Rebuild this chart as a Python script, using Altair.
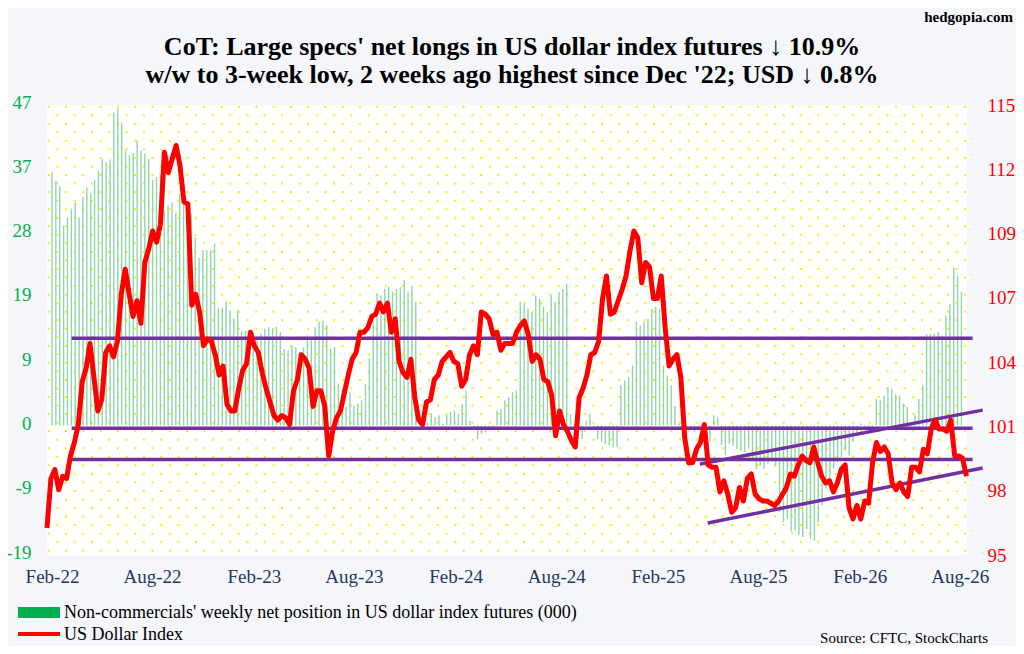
import json

import altair as alt
import pandas as pd

FONT = "Liberation Serif"

# weekly US dollar index (right axis)
usd_index = [
    96.2, 98.4, 98.8, 97.9, 98.5, 98.4, 99.4, 100.0, 100.8, 102.7,
    103.3, 104.4, 102.9, 101.4, 101.9, 104.0, 104.3, 103.8, 104.5, 106.6,
    107.7, 106.6, 105.6, 106.3, 105.3, 108.0, 108.6, 109.4, 108.9, 109.7,
    112.9, 112.0, 112.6, 113.2, 112.3, 110.7, 110.6, 106.1, 106.6, 105.8,
    104.3, 104.6, 104.5, 103.9, 103.0, 103.4, 101.7, 101.4, 101.4, 102.4,
    103.2, 103.5, 104.9, 104.3, 104.0, 103.1, 102.4, 101.8, 101.2, 101.0,
    101.2, 101.1, 100.8, 102.3, 102.8, 103.9, 103.7, 103.3, 101.6, 102.3,
    102.3, 101.6, 99.4, 100.5, 101.1, 101.4, 102.2, 103.0, 103.7, 104.0,
    104.9, 104.9, 105.1, 105.6, 105.7, 106.2, 105.8, 106.2, 104.9, 105.5,
    103.6, 103.1, 102.9, 103.7, 102.0, 101.0, 100.8, 101.8, 101.9, 102.8,
    103.0, 103.6, 103.8, 104.0, 103.6, 103.5, 102.5, 102.8, 103.9, 104.3,
    103.9, 105.8, 105.7, 105.5, 104.8, 104.9, 104.1, 104.4, 104.4, 104.4,
    104.9, 105.2, 105.4, 104.8, 103.6, 103.9, 103.7, 102.8, 102.7, 102.1,
    100.3, 101.4, 100.8, 100.5, 100.1, 99.8, 102.0, 102.4, 103.0, 103.9,
    104.0, 104.5, 106.4, 107.4, 105.7, 105.8, 106.3, 106.8, 107.4, 108.5,
    109.4, 109.1, 107.1, 108.0, 107.8, 106.4, 106.4, 107.4, 105.1, 103.4,
    103.7, 103.9, 102.9, 100.2, 99.1, 99.1, 99.7, 100.0, 100.8, 99.0,
    98.9, 98.9, 97.8, 98.3, 97.7, 96.9, 97.1, 98.0, 97.4, 98.4,
    98.6, 97.7, 97.5, 97.4, 97.4, 97.3, 97.2, 97.4, 97.7, 98.0,
    98.6, 98.5, 99.0, 99.4, 99.2, 99.1, 99.8, 99.1, 98.5, 98.2,
    98.3, 97.8, 98.2, 98.8, 99.0, 97.1, 96.6, 97.2, 96.6, 97.4,
    97.3, 99.1, 100.0, 99.6, 99.8, 99.5, 98.2, 97.9, 98.2, 97.8,
    97.6, 98.9, 98.9, 98.7, 99.7, 99.5, 100.6, 101.0, 100.6, 100.6,
    100.5, 101.0, 99.4, 99.4, 99.3, 98.5,
]

# non-commercials' net position, thousands of contracts (left axis)
net_position = [
    37.1, 35.9, 35.1, 29.3, 30.5, 31.8, 32.7, 30.5, 33.5, 34.9,
    34.0, 36.0, 37.4, 39.1, 38.6, 39.0, 45.9, 46.5, 44.4, 40.3,
    39.6, 40.0, 41.8, 40.3, 39.9, 39.1, 36.0, 36.4, 36.7, 31.5,
    32.3, 32.7, 31.2, 34.0, 33.0, 32.3, 31.1, 27.6, 24.6, 25.7,
    25.7, 25.7, 26.7, 17.2, 17.3, 18.2, 16.9, 15.7, 16.9, 13.8,
    13.9, 13.7, 13.7, 13.0, 13.5, 14.2, 14.4, 14.2, 14.5, 13.7,
    11.2, 11.0, 11.7, 11.5, 10.8, 11.5, 13.2, 12.5, 14.4, 15.2,
    15.4, 14.7, 11.2, 11.5, 6.1, 5.4, 2.7, 4.9, 2.9, 3.2,
    3.7, 6.1, 9.8, 16.1, 19.3, 19.1, 20.0, 20.3, 19.6, 20.0,
    20.3, 21.3, 19.6, 20.5, 18.1, 0.6, -0.4, 0.4, 1.8, 1.2,
    1.5, 0.2, 1.5, 2.0, 2.2, 1.7, 3.2, 5.1, 0.7, -0.3,
    -2.0, -1.2, -1.0, -0.4, -0.2, 2.2, 2.4, 3.7, 4.2, 4.9,
    5.1, 18.1, 17.8, 17.1, 16.6, 19.1, 18.6, 17.4, 16.6, 19.1,
    18.1, 19.6, 20.0, 20.8, 1.7, 0.2, -2.0, -2.0, 0.7, 1.7,
    -0.2, -2.0, -2.4, -2.7, -2.9, -3.2, -3.2, 5.9, 6.6, 7.1,
    8.8, 15.2, 14.7, 15.2, 15.6, 17.1, 17.4, 17.1, 8.8, 7.3,
    5.9, 2.9, 0.3, -0.5, -0.5, -0.7, -1.0, -0.5, -1.0, -4.4,
    -2.4, 1.5, 1.2, -2.9, -4.4, -2.7, -2.9, -3.4, -3.7, -3.9,
    -3.4, -4.9, -6.4, -5.9, -6.4, -5.6, -4.9, -5.9, -12.7, -14.2,
    -13.7, -15.6, -15.4, -16.1, -16.4, -15.2, -16.6, -16.9, -14.2, -11.7,
    -9.3, -7.8, -6.4, -5.4, -4.6, -3.7, -4.4, -2.4, -1.2, 0.3,
    -0.5, -0.7, -0.5, 3.9, 3.7, 4.4, 5.6, 5.4, 4.6, 4.4,
    3.2, 2.7, 0.2, 1.5, 3.9, 5.9, 13.4, 13.4, 13.4, 13.7,
    13.2, 16.1, 17.8, 23.2, 22.0, 19.6,
]

first_week = "2022-02-01"
left_tick_labels = ["-19", "-9", "0", "9", "19", "28", "37", "47"]
right_tick_labels = ["95", "98", "101", "104", "107", "109", "112", "115"]
x_tick_dates = [(2022, 2), (2022, 8), (2023, 2), (2023, 8), (2024, 2),
                (2024, 8), (2025, 2), (2025, 8), (2026, 2), (2026, 8)]

# purple support / resistance levels and the rising channel
level_values = [104.63, 100.63, 99.25]
level_from, level_to = "2022-03-17", "2026-08-15"
channel_from_dates = ["2025-04-14", "2025-04-28"]
channel_to_dates = ["2026-09-02", "2026-09-02"]
channel_from_values = [99.04, 96.42]
channel_to_values = [101.44, 98.87]

title_lines = [
    "CoT: Large specs' net longs in US dollar index futures \u2193 10.9%",
    "w/w to 3-week low, 2 weeks ago highest since Dec '22; USD \u2193 0.8%",
]

df = pd.DataFrame({
    "date": pd.date_range(first_week, periods=len(usd_index), freq="7D").strftime("%Y-%m-%d"),
    "usd": usd_index,
    "net": net_position,
})

lines_df = pd.DataFrame({
    "d0": [level_from] * len(level_values) + channel_from_dates,
    "d1": [level_to] * len(level_values) + channel_to_dates,
    "v0": level_values + channel_from_values,
    "v1": level_values + channel_to_values,
})

W, H = 920, 450
x_domain = [alt.DateTime(year=2022, month=2, date=1, utc=True),
            alt.DateTime(year=2026, month=8, date=5, utc=True)]
x_scale = alt.Scale(type="utc", domain=x_domain, nice=False)
left_dom = [-19, 47]
right_dom = [95, 115]
left_ticks = [left_dom[0] + (left_dom[1] - left_dom[0]) * k / 7 for k in range(8)]
right_ticks = [right_dom[0] + (right_dom[1] - right_dom[0]) * k / 7 for k in range(8)]

bars = alt.Chart(df).mark_bar(size=1.4, color="#8fd6a9").encode(
    x=alt.X("date:T", scale=x_scale, axis=alt.Axis(
        values=[alt.DateTime(year=y, month=m, date=1, utc=True) for y, m in x_tick_dates],
        format="%b-%y", labelFont=FONT, labelFontSize=19, labelColor="#1f3864",
        labelPadding=12, labelFlush=False, domain=False, ticks=False, grid=False, title=None)),
    y=alt.Y("net:Q", scale=alt.Scale(domain=left_dom, nice=False), axis=alt.Axis(
        values=left_ticks,
        labelExpr=f"{json.dumps(left_tick_labels)}[round((datum.value + 19) * 7 / 66)]",
        labelFont=FONT, labelFontSize=19, labelColor="#00b050", labelPadding=16,
        labelFlush=False, labelOverlap=False, labelOffset=-3,
        domain=False, ticks=False, grid=False, title=None)),
)

usd_y = alt.Scale(domain=right_dom, nice=False)

level_lines = alt.Chart(lines_df).mark_rule(color="#7030a0", strokeWidth=3.5, clip=False).encode(
    x=alt.X("d0:T", scale=x_scale, axis=None),
    x2="d1:T",
    y=alt.Y("v0:Q", scale=usd_y, axis=None),
    y2="v1:Q",
)

usd_line = alt.Chart(df).mark_line(color="#ff0000", strokeWidth=5, strokeJoin="round").encode(
    x=alt.X("date:T", scale=x_scale, axis=None),
    y=alt.Y("usd:Q", scale=usd_y, axis=alt.Axis(
        orient="right", values=right_ticks,
        labelExpr=f"{json.dumps(right_tick_labels)}[round((datum.value - 95) * 7 / 20)]",
        labelFont=FONT, labelFontSize=19, labelColor="#ff0000", labelPadding=20,
        labelFlush=False, labelOverlap=False,
        domain=False, ticks=False, grid=False, title=None)),
)

# light yellow dotted backdrop of the plot area
dot_cols, dot_rows = 107, 53
dots_df = pd.DataFrame(
    [(c, r) for r in range(dot_rows) for c in range(dot_cols) if (c + r) % 2 == 0],
    columns=["gx", "gy"])
dots = alt.Chart(dots_df).mark_square(size=4, color="#f0f000", opacity=1).encode(
    x=alt.X("gx:Q", scale=alt.Scale(domain=[-0.2, 106.2], nice=False, zero=False), axis=None),
    y=alt.Y("gy:Q", scale=alt.Scale(domain=[-0.5, 52.2], nice=False, zero=False), axis=None),
)


def label(text, x, y, size, color="black", weight="normal", align="left"):
    return alt.Chart(pd.DataFrame({"t": [text]})).mark_text(
        font=FONT, fontSize=size, fontWeight=weight, color=color, align=align,
        baseline="alphabetic").encode(text="t:N", x=alt.value(x), y=alt.value(y))


one = pd.DataFrame({"k": [0]})
legend_box = alt.Chart(one).mark_rect(color="#00b050").encode(
    x=alt.value(-29), x2=alt.value(13), y=alt.value(502), y2=alt.value(513))
legend_line = alt.Chart(one).mark_rule(color="#ff0000", strokeWidth=4).encode(
    x=alt.value(-29), x2=alt.value(13), y=alt.value(529))

texts = [
    label(title_lines[0], 465, -50, 26, weight="bold", align="center"),
    label(title_lines[1], 465, -22, 26, weight="bold", align="center"),
    label("hedgopia.com", 966, -83, 15, weight="bold", align="right"),
    label("Non-commercials' weekly net position in US dollar index futures (000)", 17, 513, 18),
    label("US Dollar Index", 17, 535, 18),
    label("Source: CFTC, StockCharts", 941, 538, 15, align="right"),
]

chart = alt.layer(
    dots, bars, level_lines, usd_line, legend_box, legend_line, *texts
).resolve_scale(
    x="independent", y="independent"
).properties(
    width=W, height=H, autosize="none",
    padding={"left": 39, "top": 97, "right": 49, "bottom": 91},
    background="#f4f6f9",
).configure_view(
    stroke=None, fill="#ffffff"
)

chart.save("out.html", embed_options={"renderer": "svg", "actions": False})
